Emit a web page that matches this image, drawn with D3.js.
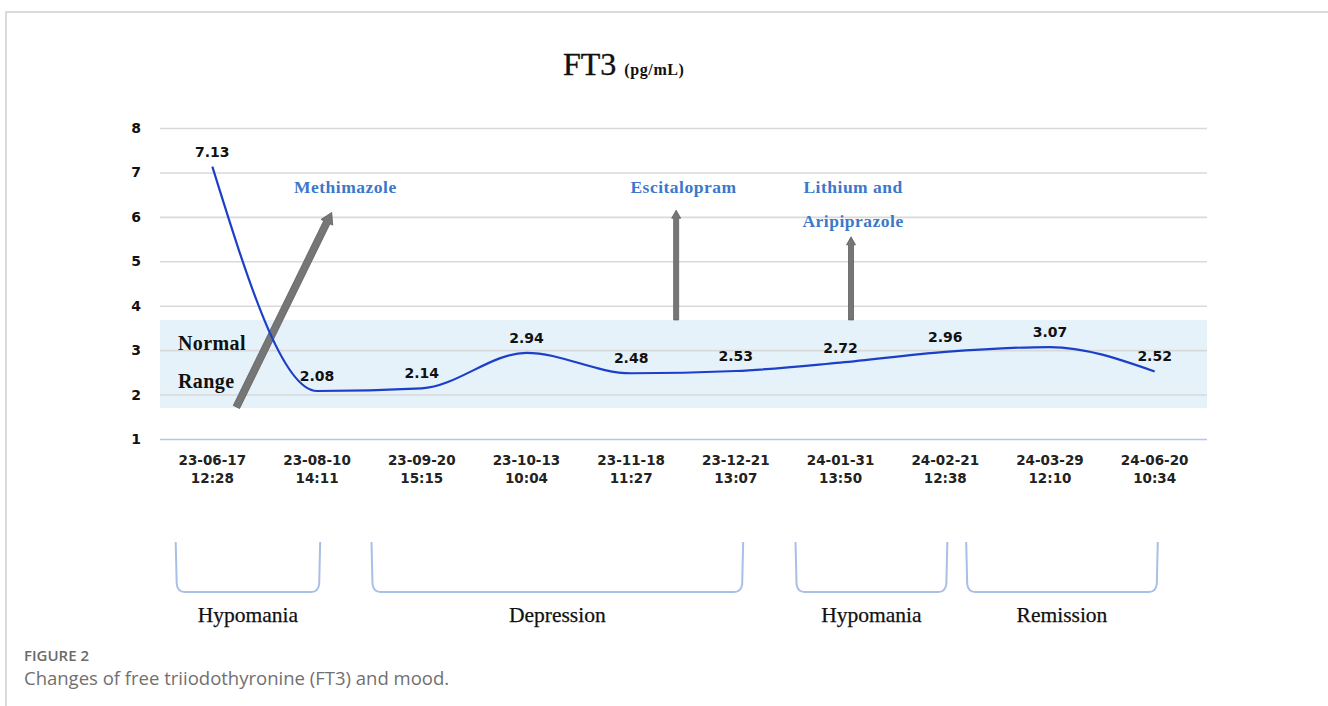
<!DOCTYPE html>
<html lang="en">
<head>
    <meta charset="UTF-8">
    <title>FT3 (pg/mL)</title>
    <script src="https://d3js.org/d3.v7.min.js"></script>
    <style>
        body { margin: 0; background: #fff; }
        svg { display: block; }
    </style>
</head>
<body>
    <svg width="1328" height="706"></svg>

    <script>
        // data
        const dates = ["23-06-17\n12:28", "23-08-10\n14:11", "23-09-20\n15:15", "23-10-13\n10:04", "23-11-18\n11:27",
                       "23-12-21\n13:07", "24-01-31\n13:50", "24-02-21\n12:38", "24-03-29\n12:10", "24-06-20\n10:34"];
        const ft3 = [7.13, 2.08, 2.14, 2.94, 2.48, 2.53, 2.72, 2.96, 3.07, 2.52];
        const yTicks = [1, 2, 3, 4, 5, 6, 7, 8];
        const normalRange = [1.7, 3.68];

        // drug annotations: arrow from/to in (category index, FT3 value)
        const drugs = ["Methimazole", "Escitalopram", "Lithium and\nAripiprazole"];
        const drugFrom = [[0.23, 1.72], [4.43, 3.68], [6.1, 3.68]];
        const drugTo = [[1.14, 6.1], [4.43, 6.15], [6.1, 5.55]];
        const drugLabelAt = [[1.27, 6.75], [4.5, 6.75], [6.12, 6.75]];

        // mood phases: span in category index
        const moods = ["Hypomania", "Depression", "Hypomania", "Remission"];
        const moodStart = [-0.35, 1.52, 5.57, 7.2];
        const moodEnd = [1.03, 5.07, 7.02, 9.03];

        const svg = d3.select("svg");
        const plotL = 160, plotR = 1207, plotT = 128, plotB = 439;

        const x = d3.scaleBand().domain(dates).range([plotL, plotR]);
        const cx = d => x(d) + x.bandwidth() / 2;
        const xi = d3.scaleLinear().domain([0, dates.length - 1]).range([cx(dates[0]), cx(dates[dates.length - 1])]);
        const y = d3.scaleLinear().domain([1, 8]).range([plotB, plotT]);

        // frame
        svg.append("path")
           .attr("d", "M6,720 L6,12 L1340,12")
           .attr("fill", "none")
           .attr("stroke", "#cfcfcf")
           .attr("stroke-width", 1.5);

        // title
        const title = svg.append("text")
           .attr("x", 563).attr("y", 75)
           .attr("font-family", "Liberation Serif, serif")
           .attr("fill", "#111");
        title.append("tspan").attr("font-size", 32).attr("stroke", "#111").attr("stroke-width", 0.4).text("FT3 ");
        title.append("tspan").attr("font-size", 16).attr("font-weight", "bold").attr("letter-spacing", 0.6).text("(pg/mL)");

        // normal range band
        svg.append("rect")
           .attr("x", plotL).attr("width", plotR - plotL)
           .attr("y", y(normalRange[1]))
           .attr("height", y(normalRange[0]) - y(normalRange[1]))
           .attr("fill", "#e5f2fa");

        // gridlines + y labels
        const yAxis = svg.append("g")
           .attr("transform", `translate(${plotL},0)`)
           .call(d3.axisLeft(y).tickValues(yTicks).tickSize(-(plotR - plotL)).tickPadding(19).tickFormat(d3.format("d")));
        yAxis.select(".domain").remove();
        yAxis.selectAll(".tick line")
           .attr("stroke", d => d === 1 ? "#b4c6e8" : "#d9d9d9")
           .attr("stroke-width", 1.6);
        yAxis.selectAll(".tick text")
           .attr("font-family", "DejaVu Sans, sans-serif")
           .attr("font-weight", "bold")
           .attr("font-size", 14)
           .attr("fill", "#111");

        // x labels (two lines)
        const xAxis = svg.append("g")
           .attr("transform", `translate(0,${plotB})`)
           .call(d3.axisBottom(x).tickSize(0).tickFormat(""));
        xAxis.select(".domain").remove();
        xAxis.selectAll(".tick").each(function(d) {
            const t = d3.select(this).append("text")
               .attr("text-anchor", "middle")
               .attr("font-family", "DejaVu Sans, sans-serif")
               .attr("font-weight", "bold")
               .attr("font-size", 13.5)
               .attr("fill", "#222");
            d.split("\n").forEach((s, i) => t.append("tspan").attr("x", 0).attr("y", 26 + i * 18).text(s));
        });

        // Normal Range text
        svg.selectAll(".nr")
           .data(["Normal", "Range"])
           .enter().append("text")
           .attr("x", 178)
           .attr("y", (d, i) => y(3.0) + i * 38)
           .attr("font-family", "Liberation Serif, serif")
           .attr("font-weight", "bold")
           .attr("font-size", 20)
           .attr("letter-spacing", 0.4)
           .attr("fill", "#111")
           .text(d => d);

        // arrow shape
        function arrow(x1, y1, x2, y2, sw, hw, hl) {
            const dx = x2 - x1, dy = y2 - y1, len = Math.hypot(dx, dy);
            const ux = dx / len, uy = dy / len, px = -uy, py = ux;
            const bx = x2 - ux * hl, by = y2 - uy * hl;
            const pts = [
                [x1 + px * sw / 2, y1 + py * sw / 2],
                [bx + px * sw / 2, by + py * sw / 2],
                [bx + px * hw / 2, by + py * hw / 2],
                [x2, y2],
                [bx - px * hw / 2, by - py * hw / 2],
                [bx - px * sw / 2, by - py * sw / 2],
                [x1 - px * sw / 2, y1 - py * sw / 2]
            ];
            return "M" + pts.map(p => p.join(",")).join("L") + "Z";
        }

        svg.selectAll(".arrow")
           .data(drugs)
           .enter().append("path")
           .attr("class", "arrow")
           .attr("d", (d, i) => {
               const big = i === 0;
               return arrow(xi(drugFrom[i][0]), y(drugFrom[i][1]), xi(drugTo[i][0]), y(drugTo[i][1]),
                            big ? 7 : 5, big ? 13 : 9, big ? 11 : 8);
           })
           .attr("fill", "#767676")
           .attr("stroke", "#5e5e5e")
           .attr("stroke-width", 0.8);

        // drug labels
        svg.selectAll(".drug")
           .data(drugs)
           .enter().append("text")
           .attr("class", "drug")
           .attr("text-anchor", "middle")
           .attr("font-family", "Liberation Serif, serif")
           .attr("font-weight", "bold")
           .attr("font-size", 17.5)
           .attr("letter-spacing", 0.5)
           .attr("fill", "#3b78c9")
           .each(function(d, i) {
               const t = d3.select(this);
               d.split("\n").forEach((s, k) => t.append("tspan")
                   .attr("x", xi(drugLabelAt[i][0]))
                   .attr("y", y(drugLabelAt[i][1]) + 9 + k * 34)
                   .text(s));
           });

        // FT3 line
        const line = d3.line()
           .x(d => cx(d.date))
           .y(d => y(d.v))
           .curve(d3.curveMonotoneX);
        const pts = dates.map((d, i) => ({ date: d, v: ft3[i] }));

        svg.append("path")
           .datum(pts)
           .attr("d", line)
           .attr("fill", "none")
           .attr("stroke", "#1b3fc8")
           .attr("stroke-width", 2.2);

        svg.selectAll(".val")
           .data(pts)
           .enter().append("text")
           .attr("class", "val")
           .attr("x", d => cx(d.date))
           .attr("y", d => y(d.v) - 10)
           .attr("text-anchor", "middle")
           .attr("font-family", "DejaVu Sans, sans-serif")
           .attr("font-weight", "bold")
           .attr("font-size", 14)
           .attr("fill", "#111")
           .text(d => d3.format(".2f")(d.v));

        // mood brackets
        const bTop = 542, bBot = 592;
        svg.selectAll(".bracket")
           .data(moods)
           .enter().append("path")
           .attr("d", (d, i) => {
               const a = xi(moodStart[i]), b = xi(moodEnd[i]);
               return `M${a},${bTop} L${a + 1},${bBot - 8} Q${a + 2},${bBot} ${a + 9},${bBot} ` +
                      `L${b - 9},${bBot} Q${b - 2},${bBot} ${b - 1},${bBot - 8} L${b},${bTop}`;
           })
           .attr("fill", "none")
           .attr("stroke", "#a8bfe6")
           .attr("stroke-width", 2);

        svg.selectAll(".mood")
           .data(moods)
           .enter().append("text")
           .attr("x", (d, i) => (xi(moodStart[i]) + xi(moodEnd[i])) / 2)
           .attr("y", 622)
           .attr("text-anchor", "middle")
           .attr("font-family", "Liberation Serif, serif")
           .attr("font-size", 21.5)
           .attr("fill", "#111")
           .attr("stroke", "#111")
           .attr("stroke-width", 0.25)
           .text(d => d);

        // caption
        svg.append("text")
           .attr("x", 24).attr("y", 661)
           .attr("font-family", "Open Sans, sans-serif")
           .attr("font-size", 15)
           .attr("font-weight", 600)
           .attr("fill", "#6a6a6a")
           .text("FIGURE 2");
        svg.append("text")
           .attr("x", 24).attr("y", 685)
           .attr("font-family", "Open Sans, sans-serif")
           .attr("font-size", 18.5)
           .attr("fill", "#707070")
           .text("Changes of free triiodothyronine (FT3) and mood.");
    </script>
</body>
</html>
